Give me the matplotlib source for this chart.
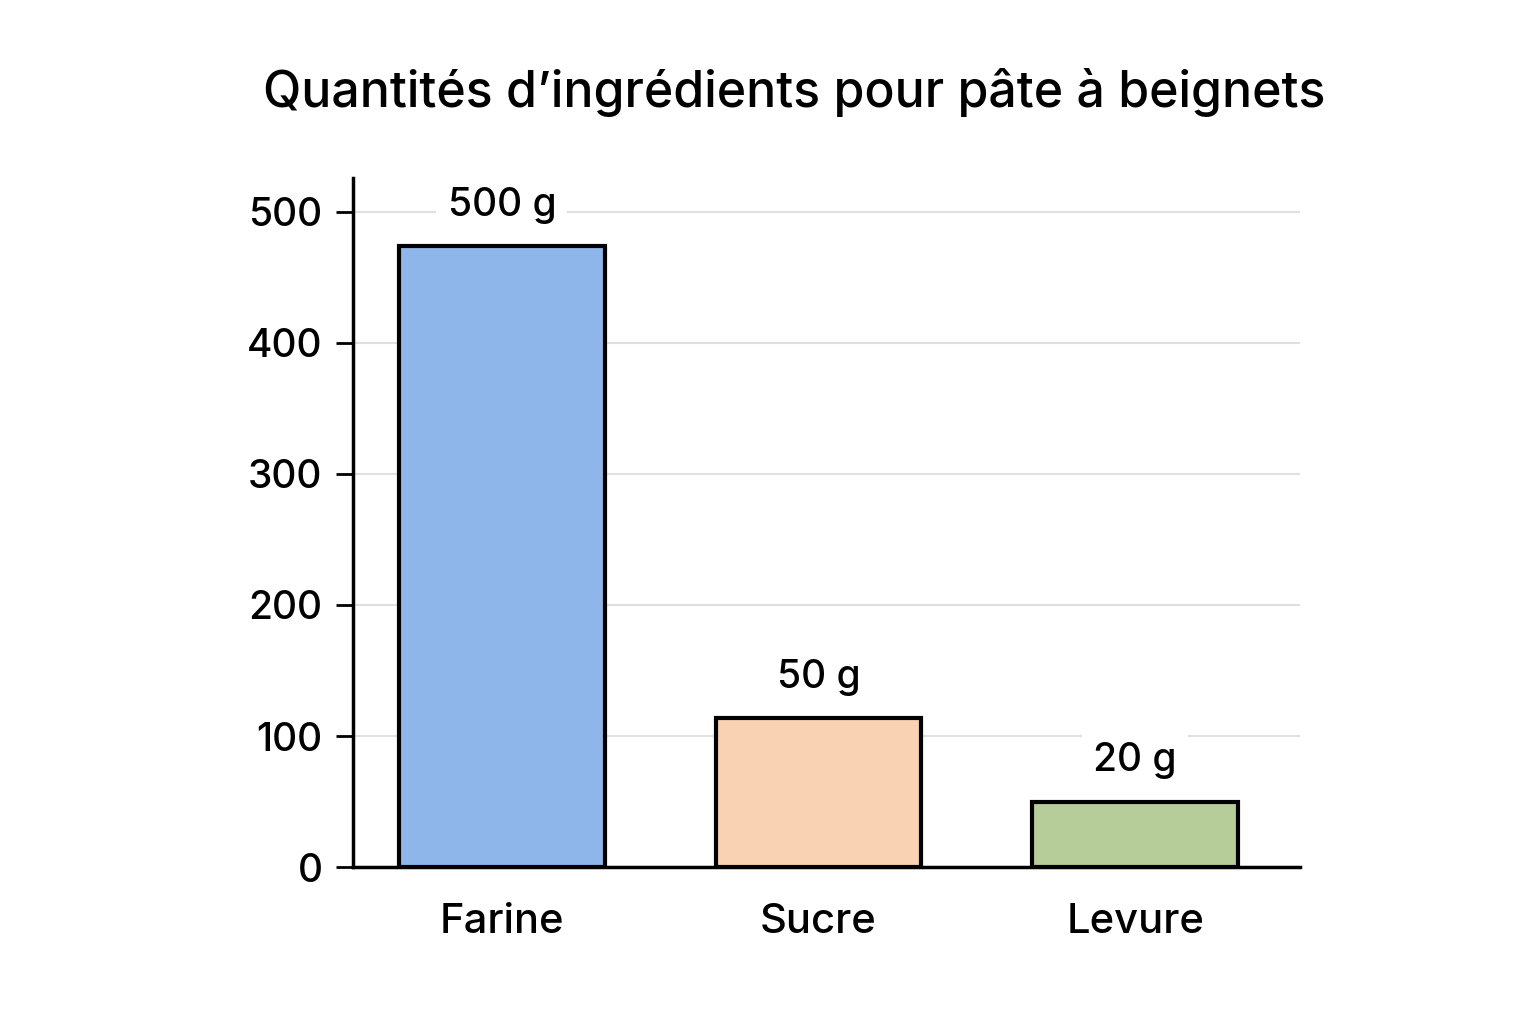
import matplotlib
matplotlib.use("Agg")
import matplotlib.pyplot as plt

categories = ["Farine", "Sucre", "Levure"]
bar_heights = [474, 114, 50]
value_labels = ["500 g", "50 g", "20 g"]
colors = ["#8fb6ea", "#f9d2b3", "#b6cd9a"]
yticks = [0, 100, 200, 300, 400, 500]

plt.rcParams["font.family"] = "Inter"
plt.rcParams["font.weight"] = "medium"
fig = plt.figure(figsize=(15.36, 10.24), dpi=100)
ax = fig.add_axes([0.2298, 0.1533, 0.6165, 0.673])
x = range(len(categories))
ax.bar(x, bar_heights, width=0.65, color=colors, edgecolor="black", linewidth=3, zorder=3)
for xi, h, lab in zip(x, bar_heights, value_labels):
    ax.text(xi, h + 31, lab, ha="center", va="center", fontsize=28, fontweight="medium", zorder=4,
            bbox=dict(facecolor="white", edgecolor="none", pad=8))
ax.set_xlim(-0.47, 2.52)
ax.set_ylim(0, 526)
ax.set_yticks(yticks)
ax.set_xticks(list(x))
ax.set_xticklabels(categories, fontsize=30, fontweight="medium")
for t in ax.get_yticklabels():
    t.set_fontweight("medium")
ax.tick_params(axis="y", labelsize=28, length=12, width=2, pad=10)
ax.tick_params(axis="x", length=0, pad=26)
ax.yaxis.grid(True, color="#e0e0e0", linewidth=1.5, zorder=0)
for s in ["top", "right"]:
    ax.spines[s].set_visible(False)
ax.spines["left"].set_linewidth(2.5)
ax.spines["bottom"].set_linewidth(2.5)
fig.text(0.517, 0.91, "Quantités d’ingrédients pour pâte à beignets", ha="center",
         va="center", fontsize=36, fontweight="medium")
fig.savefig("out.png", dpi=100, facecolor="white")
